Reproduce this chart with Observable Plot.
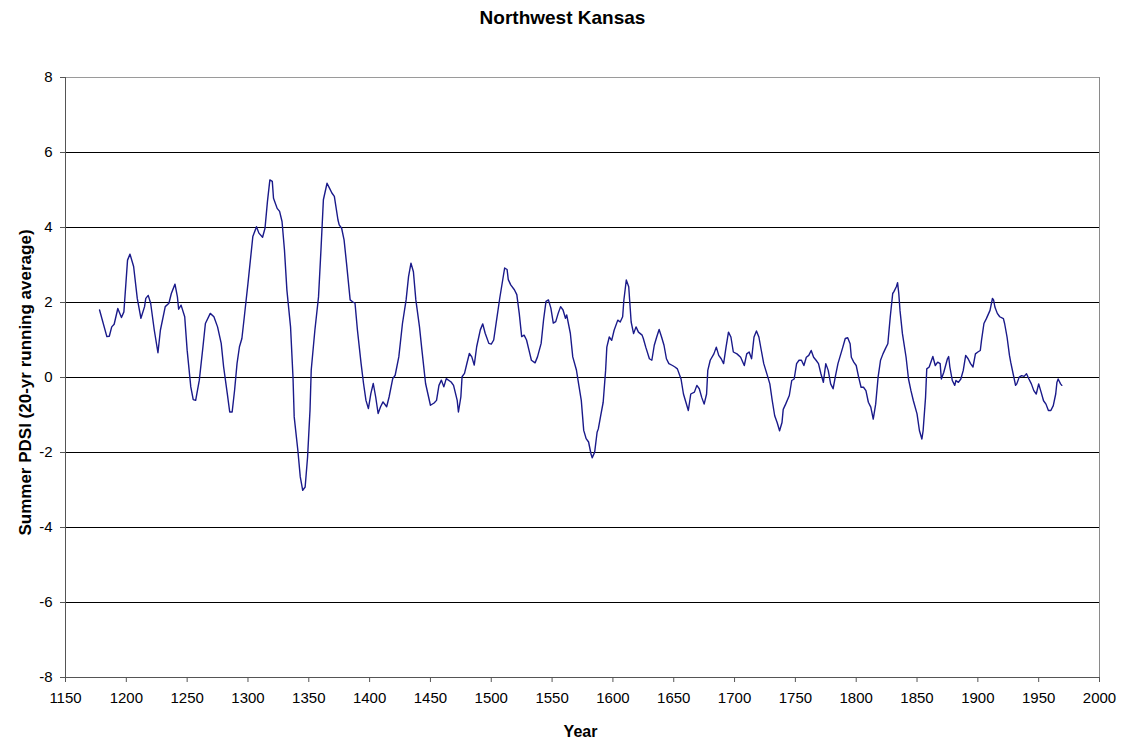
<!DOCTYPE html>
<html>
<head>
<meta charset="utf-8">
<script src="https://cdn.jsdelivr.net/npm/d3@7"></script>
<script src="https://cdn.jsdelivr.net/npm/@observablehq/plot@0.6"></script>
<style>
  html, body { margin: 0; padding: 0; background: #fff; }
</style>
</head>
<body>
<div id="chart"></div>
<script>
const title = "Northwest Kansas";
const yLabel = "Summer PDSI (20-yr running average)";
const xLabel = "Year";
const xTicks = [1150, 1200, 1250, 1300, 1350, 1400, 1450, 1500, 1550, 1600, 1650, 1700, 1750, 1800, 1850, 1900, 1950, 2000];
const yTicks = [-8, -6, -4, -2, 0, 2, 4, 6, 8];

const years = [
  1178,1184,1186,1188,1190,1193,1196,1198,1201,1203,1206,1209,1212,1215,1216,1218,1220,1223,1226,1228,
  1232,1235,1237,1240,1242,1243,1245,1248,1250,1253,1255,1257,1260,1263,1265,1269,1272,1275,1278,1280,
  1283,1285,1287,1289,1291,1293,1295,1297,1300,1304,1307,1309,1312,1314,1316,1318,1320,1321,1324,1326,
  1328,1330,1332,1335,1337,1338,1341,1343,1345,1347,1349,1351,1352,1355,1358,1360,1362,1365,1367,1369,
  1371,1374,1375,1377,1379,1381,1384,1386,1388,1390,1393,1395,1397,1399,1401,1403,1405,1407,1409,1411,
  1414,1416,1419,1421,1424,1427,1430,1432,1434,1436,1438,1441,1443,1446,1450,1453,1455,1457,1459,1461,
  1463,1467,1469,1472,1473,1475,1476,1478,1480,1482,1484,1486,1488,1491,1493,1495,1498,1500,1502,1504,
  1507,1509,1511,1513,1514,1516,1519,1521,1523,1525,1527,1529,1531,1533,1536,1538,1541,1543,1545,1547,
  1549,1551,1553,1555,1557,1559,1561,1562,1565,1567,1570,1572,1574,1576,1578,1580,1582,1583,1585,1587,
  1588,1590,1592,1594,1595,1597,1599,1601,1604,1606,1608,1609,1611,1613,1615,1617,1619,1621,1624,1625,
  1627,1630,1632,1634,1636,1638,1640,1642,1644,1646,1649,1651,1653,1656,1658,1660,1662,1664,1667,1669,
  1671,1673,1675,1677,1678,1680,1683,1685,1687,1689,1691,1693,1695,1697,1699,1702,1705,1708,1710,1712,
  1714,1716,1718,1720,1722,1724,1727,1729,1731,1733,1735,1737,1739,1740,1742,1745,1747,1749,1751,1753,
  1755,1757,1759,1761,1763,1765,1767,1769,1771,1773,1775,1777,1779,1781,1783,1785,1787,1789,1791,1793,
  1795,1796,1798,1800,1802,1804,1806,1808,1810,1812,1814,1816,1818,1820,1822,1824,1826,1828,1830,1831,
  1833,1834,1835,1836,1838,1841,1843,1845,1847,1850,1852,1854,1855,1857,1858,1860,1863,1865,1867,1869,
  1870,1872,1875,1876,1877,1879,1881,1882,1884,1886,1888,1890,1892,1894,1896,1898,1900,1902,1903,1905,
  1907,1910,1912,1913,1914,1916,1918,1921,1922,1924,1926,1927,1929,1931,1932,1934,1936,1938,1940,1942,
  1944,1946,1948,1950,1952,1954,1956,1958,1960,1962,1964,1965,1966,1968,1969
];

const pdsi = [
  1.80,1.09,1.10,1.35,1.42,1.84,1.60,1.75,3.13,3.29,2.96,2.11,1.58,1.89,2.11,2.19,1.98,1.26,0.66,1.26,
  1.89,1.98,2.24,2.49,2.15,1.82,1.93,1.62,0.73,-0.25,-0.59,-0.61,-0.07,0.82,1.44,1.71,1.62,1.35,0.91,0.28,
  -0.43,-0.92,-0.92,-0.34,0.37,0.82,1.04,1.62,2.51,3.76,4.02,3.85,3.74,3.98,4.69,5.27,5.23,4.78,4.51,4.43,
  4.16,3.40,2.33,1.35,0.02,-1.05,-1.94,-2.65,-3.01,-2.92,-2.12,-0.87,0.20,1.26,2.15,3.40,4.74,5.18,5.05,4.92,
  4.83,4.20,4.07,3.98,3.67,3.05,2.07,2.02,1.98,1.26,0.37,-0.16,-0.61,-0.83,-0.43,-0.16,-0.52,-0.96,-0.78,-0.65,
  -0.78,-0.52,-0.03,0.06,0.55,1.44,2.07,2.69,3.05,2.82,2.07,1.35,0.73,-0.16,-0.74,-0.68,-0.61,-0.21,-0.07,-0.25,
  -0.03,-0.12,-0.21,-0.61,-0.92,-0.52,0.02,0.11,0.38,0.64,0.55,0.33,0.82,1.27,1.43,1.18,0.91,0.89,1.00,1.45,
  2.12,2.52,2.92,2.88,2.61,2.47,2.34,2.21,1.71,1.09,1.13,1.00,0.73,0.46,0.39,0.55,0.91,1.54,2.03,2.07,
  1.85,1.45,1.49,1.71,1.89,1.80,1.58,1.67,1.18,0.55,0.20,-0.21,-0.61,-1.41,-1.63,-1.72,-2.04,-2.14,-1.99,-1.46,
  -1.37,-1.01,-0.66,0.19,0.81,1.08,0.99,1.26,1.53,1.48,1.62,2.06,2.60,2.42,1.48,1.17,1.35,1.21,1.13,1.04,
  0.81,0.50,0.46,0.86,1.08,1.28,1.08,0.86,0.50,0.37,0.32,0.28,0.23,-0.04,-0.44,-0.66,-0.88,-0.44,-0.39,-0.21,
  -0.30,-0.53,-0.71,-0.44,0.19,0.46,0.63,0.81,0.59,0.50,0.37,0.81,1.21,1.08,0.68,0.63,0.54,0.32,0.63,0.68,
  0.50,1.08,1.24,1.08,0.72,0.37,0.05,-0.17,-0.62,-1.02,-1.20,-1.42,-1.20,-0.85,-0.71,-0.48,-0.08,-0.04,0.37,0.46,
  0.46,0.32,0.54,0.59,0.72,0.54,0.46,0.37,0.10,-0.13,0.37,0.19,-0.17,-0.30,0.05,0.37,0.59,0.81,1.04,1.06,
  0.90,0.54,0.41,0.32,0.01,-0.26,-0.26,-0.35,-0.66,-0.79,-1.11,-0.71,0.01,0.46,0.63,0.77,0.90,1.62,2.24,2.29,
  2.42,2.53,2.24,1.79,1.17,0.54,-0.04,-0.35,-0.62,-0.97,-1.42,-1.64,-1.42,-0.53,0.23,0.28,0.56,0.32,0.41,0.37,
  -0.04,0.14,0.50,0.56,0.28,-0.08,-0.21,-0.08,-0.13,-0.04,0.19,0.59,0.50,0.37,0.28,0.63,0.68,0.72,0.99,1.44,
  1.57,1.79,2.11,2.06,1.88,1.71,1.62,1.57,1.44,1.08,0.59,0.41,0.10,-0.21,-0.17,0.01,0.05,0.03,0.10,-0.04,
  -0.17,-0.35,-0.44,-0.17,-0.39,-0.62,-0.71,-0.88,-0.88,-0.75,-0.44,-0.13,-0.04,-0.17,-0.21
];

const rows = years.map((year, i) => ({year, value: pdsi[i]}));
const innerTicks = yTicks.filter(v => v !== yTicks[0] && v !== yTicks[yTicks.length - 1]);

const chart = Plot.plot({
  width: 1123,
  height: 744,
  marginLeft: 65,
  marginRight: 24,
  marginTop: 77,
  marginBottom: 67,
  style: {fontFamily: "'Liberation Sans', Arial, sans-serif", fontSize: "15px", color: "#000", background: "#fff"},
  x: {domain: [xTicks[0], xTicks[xTicks.length - 1]]},
  y: {domain: [yTicks[0], yTicks[yTicks.length - 1]]},
  marks: [
    Plot.ruleY(innerTicks, {stroke: "#000", strokeWidth: 1}),
    Plot.ruleY([yTicks[yTicks.length - 1]], {stroke: "#9a9a9a", strokeWidth: 1}),
    Plot.ruleX([xTicks[xTicks.length - 1]], {stroke: "#8a8a8a", strokeWidth: 1}),
    Plot.ruleY([yTicks[0]], {stroke: "#555", strokeWidth: 1}),
    Plot.ruleX([xTicks[0]], {stroke: "#555", strokeWidth: 1}),
    Plot.axisX({ticks: xTicks, tickFormat: d => String(d), tickSize: 5, tickPadding: 10, stroke: "#555", label: null, fontSize: 15}),
    Plot.axisY({ticks: yTicks, tickFormat: d => String(d), tickSize: 5, tickPadding: 8, stroke: "#555", label: null, fontSize: 15}),
    Plot.line(rows, {x: "year", y: "value", stroke: "#1a1a8a", strokeWidth: 1.4}),
    Plot.text([title], {text: d => d, frameAnchor: "top", textAnchor: "middle", lineAnchor: "middle", dy: -60, dx: -20, fontWeight: "bold", fontSize: 19}),
    Plot.text([yLabel], {text: d => d, frameAnchor: "left", textAnchor: "middle", lineAnchor: "middle", rotate: -90, dx: -40, dy: 5, fontWeight: "bold", fontSize: 17}),
    Plot.text([xLabel], {text: d => d, frameAnchor: "bottom", textAnchor: "middle", lineAnchor: "middle", dy: 54, dx: -2, fontWeight: "bold", fontSize: 16})
  ]
});
document.getElementById("chart").appendChild(chart);
</script>
</body>
</html>
